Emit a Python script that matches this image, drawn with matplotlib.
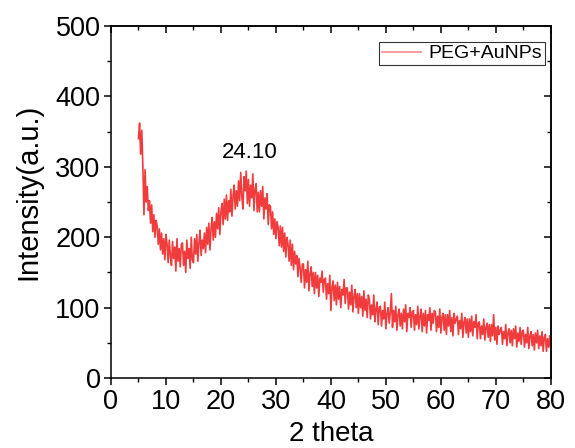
import numpy as np
import matplotlib
matplotlib.use("Agg")
import matplotlib.pyplot as plt
from matplotlib.lines import Line2D

# ---- data ----
x_start = 5.0
x_step = 0.2
intensity = [
    340, 362, 318, 352, 300, 232, 296, 250, 272, 238,
    252, 220, 246, 208, 232, 200, 224, 216, 190, 212,
    182, 206, 176, 198, 168, 204, 190, 164, 196, 174,
    160, 194, 170, 186, 152, 198, 166, 184, 158, 190,
    192, 160, 180, 150, 196, 170, 184, 156, 200, 168,
    164, 198, 176, 204, 166, 192, 210, 174, 196, 184,
    206, 178, 214, 190, 220, 182, 212, 228, 196, 222,
    200, 234, 212, 242, 204, 236, 248, 218, 254, 226,
    260, 224, 252, 236, 268, 230, 258, 274, 240, 266,
    244, 280, 252, 292, 258, 240, 286, 266, 294, 248,
    282, 244, 274, 256, 290, 238, 268, 276, 236, 264,
    236, 266, 244, 272, 226, 256, 240, 262, 218, 246,
    244, 212, 236, 204, 226, 198, 222, 214, 188, 216,
    186, 214, 180, 206, 172, 200, 190, 166, 196, 160,
    190, 154, 180, 162, 174, 144, 170, 156, 136, 162,
    162, 128, 154, 136, 166, 124, 148, 158, 130, 150,
    120, 150, 128, 146, 116, 142, 136, 152, 122, 140,
    142, 112, 134, 120, 146, 96, 130, 138, 110, 132,
    104, 136, 112, 130, 100, 126, 118, 140, 106, 128,
    128, 98, 122, 104, 132, 94, 116, 126, 100, 120,
    92, 120, 100, 116, 88, 124, 96, 112, 86, 118,
    112, 84, 104, 90, 118, 80, 98, 108, 76, 100,
    102, 74, 96, 84, 108, 70, 92, 100, 78, 94,
    120, 72, 96, 80, 102, 68, 90, 98, 74, 92,
    70, 98, 80, 104, 66, 92, 86, 100, 72, 94,
    96, 68, 90, 76, 102, 70, 88, 98, 66, 92,
    74, 96, 64, 90, 82, 100, 68, 92, 78, 96,
    94, 66, 88, 72, 98, 64, 86, 92, 68, 90,
    62, 90, 74, 96, 66, 86, 60, 92, 78, 84,
    88, 62, 82, 70, 92, 58, 80, 86, 64, 84,
    58, 84, 66, 88, 60, 80, 72, 90, 56, 78,
    80, 56, 74, 62, 84, 54, 72, 78, 58, 76,
    52, 76, 60, 90, 54, 72, 48, 74, 62, 68,
    72, 48, 66, 56, 76, 46, 64, 70, 50, 68,
    46, 70, 56, 74, 44, 64, 52, 72, 48, 66,
    68, 44, 62, 50, 72, 42, 60, 66, 46, 62,
    40, 64, 50, 68, 42, 60, 46, 66, 38, 58,
    62, 38, 56, 44, 60, 40,
]
two_theta = x_start + x_step * np.arange(len(intensity))

series_label = "PEG+AuNPs"
peak_label = "24.10"
peak_pos = (25.3, 321)
x_ticks = [0, 10, 20, 30, 40, 50, 60, 70, 80]
y_ticks = [0, 100, 200, 300, 400, 500]
x_minor = [5, 15, 25, 35, 45, 55, 65, 75]
y_minor = [50, 150, 250, 350, 450]

# ---- figure ----
plt.rcParams['font.family'] = ['Liberation Sans', 'DejaVu Sans']
fig = plt.figure(figsize=(5.75, 4.48), dpi=100)
ax = fig.add_axes([0.193, 0.156, 0.765, 0.786])

line_color = '#F03C3C'
ax.plot(two_theta, intensity, color=line_color, lw=1.2)

ax.set_xlim(0, 80)
ax.set_ylim(0, 500)
ax.set_xticks(x_ticks)
ax.set_yticks(y_ticks)
ax.set_xticks(x_minor, minor=True)
ax.set_yticks(y_minor, minor=True)

ax.tick_params(axis='both', which='major', labelsize=19.5, length=5, width=1.1,
               direction='out', colors='black', pad=2.5)
ax.tick_params(axis='both', which='minor', length=3, width=1.0, direction='out')

# mirrored ticks on top/right pointing inward
sec = ax.secondary_xaxis('top')
sec.set_xticks(x_ticks)
sec.set_xticks(x_minor, minor=True)
sec.tick_params(which='major', direction='in', length=5, width=1.1)
sec.tick_params(which='minor', direction='in', length=3, width=1.0)
sec.set_xticklabels([])
sec.spines['top'].set_linewidth(1.1)
secy = ax.secondary_yaxis('right')
secy.set_yticks(y_ticks)
secy.set_yticks(y_minor, minor=True)
secy.tick_params(which='major', direction='in', length=5, width=1.1)
secy.tick_params(which='minor', direction='in', length=3, width=1.0)
secy.set_yticklabels([])
secy.spines['right'].set_linewidth(1.1)

for sp in ax.spines.values():
    sp.set_linewidth(1.1)
    sp.set_color('black')

ax.set_xlabel('2 theta', fontsize=20, labelpad=5)
ax.set_ylabel('Intensity(a.u.)', fontsize=21)
ax.yaxis.set_label_coords(-0.157, 0.528)

ax.text(peak_pos[0], peak_pos[1], peak_label, fontsize=16, ha='center', va='center')

handle = Line2D([], [], color='#F78A8A', lw=1.2)
leg = ax.legend([handle], [series_label], loc='upper right', fontsize=14,
                frameon=True, fancybox=False, edgecolor='black',
                borderpad=0.15, handlelength=2.0, handletextpad=0.36,
                borderaxespad=0.0, bbox_to_anchor=(0.986, 0.955))
leg.get_frame().set_linewidth(0.8)

fig.savefig('out.png', dpi=100)
